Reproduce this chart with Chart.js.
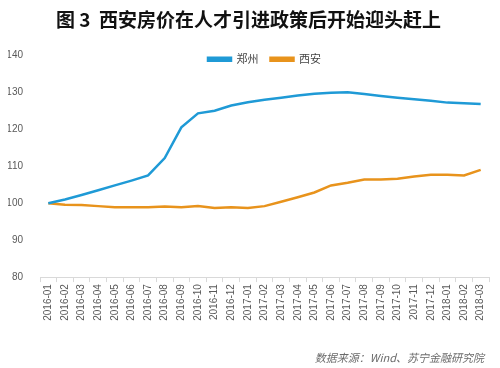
<!DOCTYPE html>
<html>
<head>
<meta charset="utf-8">
<script src="https://cdn.jsdelivr.net/npm/chart.js@4"></script>
<style>
    html, body { margin: 0; padding: 0; background: #ffffff; }
    #wrap { width: 500px; height: 368px; }
</style>
</head>
<body>
<div id="wrap"><canvas id="priceChart"></canvas></div>
<script>
const months = [
    "2016-01", "2016-02", "2016-03", "2016-04", "2016-05", "2016-06", "2016-07", "2016-08", "2016-09",
    "2016-10", "2016-11", "2016-12", "2017-01", "2017-02", "2017-03", "2017-04", "2017-05", "2017-06",
    "2017-07", "2017-08", "2017-09", "2017-10", "2017-11", "2017-12", "2018-01", "2018-02", "2018-03"
];
const zhengzhou = [
    100.0, 101.0, 102.2, 103.5, 104.8, 106.1, 107.5, 112.2, 120.5,
    124.3, 125.0, 126.4, 127.3, 128.0, 128.5, 129.1, 129.6, 129.9,
    130.0, 129.5, 129.0, 128.5, 128.1, 127.7, 127.2, 127.0, 126.8
];
const xian = [
    100.0, 99.6, 99.5, 99.2, 98.9, 98.9, 98.9, 99.1, 98.9,
    99.2, 98.7, 98.9, 98.7, 99.2, 100.4, 101.6, 102.9, 104.8,
    105.5, 106.4, 106.4, 106.6, 107.2, 107.7, 107.7, 107.5, 109.0
];
const yTicks = { min: 80, max: 140, step: 10 };

const cjk = "'Noto Sans CJK SC', 'Noto Sans', sans-serif";
const latin = "'Liberation Sans', sans-serif";

// legend row overlaps the top of the plot: reserve less room in layout,
// then give the legend its full box back (a bit lower) before it is drawn
const legendOverlap = {
    id: "legendOverlap",
    beforeInit(chart) {
        const origFit = chart.legend.fit;
        chart.legend.fit = function () {
            origFit.call(this);
            this.height = 16.5;
        };
    },
    beforeDraw(chart) {
        const lg = chart.legend;
        lg.top += 3;
        lg.height = 40;
        lg.bottom = lg.top + 40;
    }
};

new Chart(document.getElementById("priceChart"), {
    type: "line",
    data: {
        labels: months,
        datasets: [
            {
                label: "郑州",
                data: zhengzhou,
                borderColor: "#1f9ad6",
                backgroundColor: "#1f9ad6",
                borderWidth: 2.5,
                pointRadius: 0,
                tension: 0
            },
            {
                label: "西安",
                data: xian,
                borderColor: "#e8931c",
                backgroundColor: "#e8931c",
                borderWidth: 2.5,
                pointRadius: 0,
                tension: 0
            }
        ]
    },
    options: {
        responsive: true,
        maintainAspectRatio: false,
        animation: false,
        layout: { padding: { left: 8, right: 11, top: 0, bottom: 4 } },
        plugins: {
            title: {
                display: true,
                text: "图 3  西安房价在人才引进政策后开始迎头赶上",
                color: "#111111",
                font: { family: cjk, size: 19, weight: "bold" },
                padding: { top: 8, bottom: 8 }
            },
            subtitle: {
                display: true,
                position: "bottom",
                align: "end",
                text: "数据来源：Wind、苏宁金融研究院  ",
                color: "#6b6b6b",
                font: { family: cjk, size: 11, style: "italic" },
                padding: { top: 28, bottom: 0 }
            },
            legend: {
                position: "top",
                align: "center",
                fullSize: false,
                labels: {
                    boxWidth: 23,
                    boxHeight: 3,
                    padding: 12,
                    color: "#444444",
                    font: { family: cjk, size: 11 }
                }
            },
            tooltip: { enabled: false }
        },
        scales: {
            x: {
                offset: true,
                grid: {
                    display: true,
                    offset: true,
                    drawOnChartArea: false,
                    drawTicks: true,
                    tickLength: 5,
                    color: "#d9d9d9"
                },
                border: { display: true, color: "#d9d9d9" },
                ticks: {
                    autoSkip: false,
                    maxRotation: 90,
                    minRotation: 90,
                    padding: 2,
                    color: "#595959",
                    font: { family: latin, size: 10 }
                }
            },
            y: {
                min: yTicks.min,
                max: yTicks.max,
                grid: { display: false },
                border: { display: false },
                afterFit(scale) { scale.width = 32; },
                ticks: {
                    stepSize: yTicks.step,
                    padding: 9,
                    color: "#595959",
                    font: { family: latin, size: 10 }
                }
            }
        }
    },
    plugins: [legendOverlap]
});
</script>
</body>
</html>
